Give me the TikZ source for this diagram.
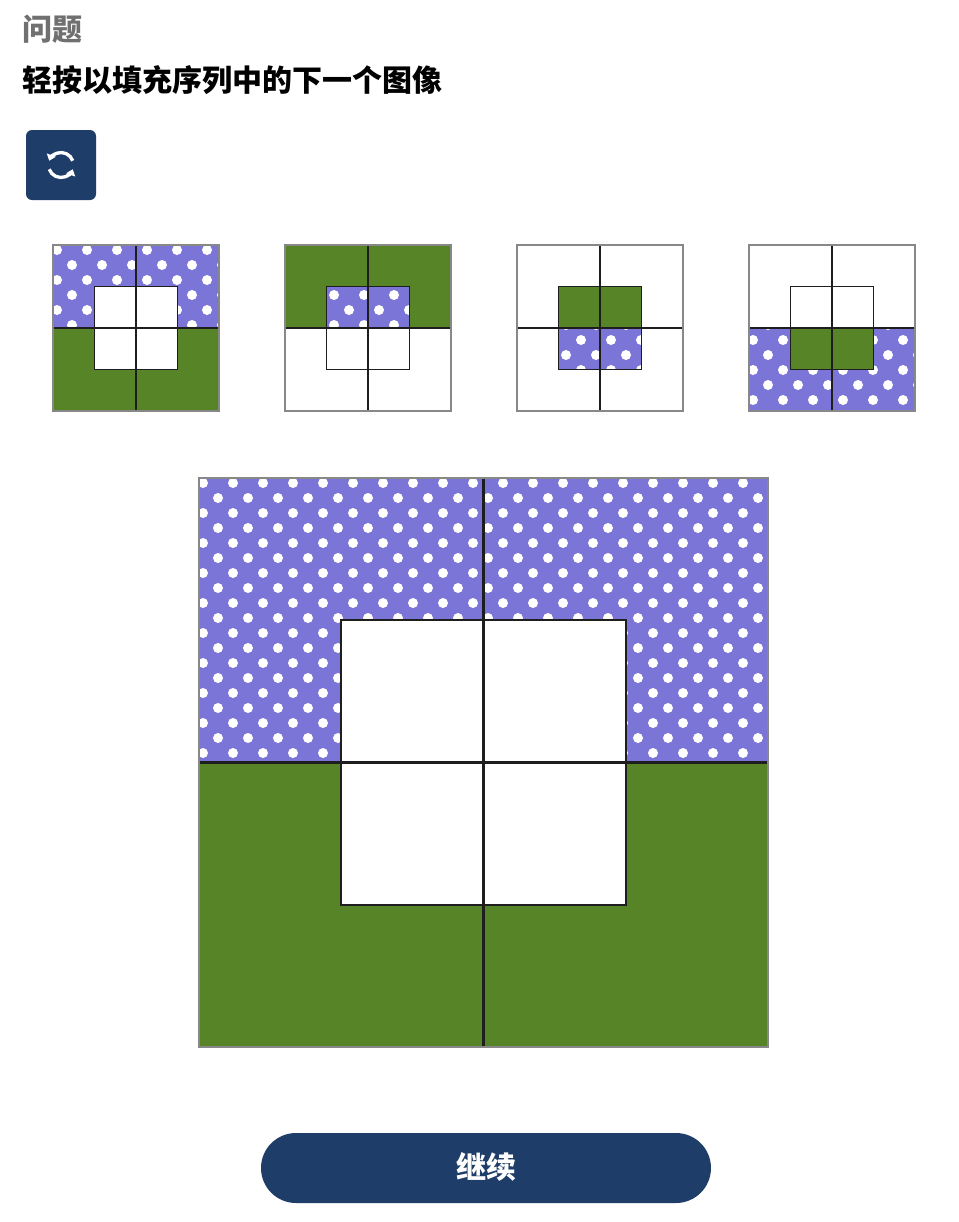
\documentclass[tikz,border=0pt]{standalone}
\usepackage{fontspec}
\setmainfont{Noto Sans CJK SC}
\usetikzlibrary{arrows.meta}
\definecolor{dotbg}{RGB}{124,117,216}
\definecolor{grass}{RGB}{87,132,38}
\definecolor{navy}{RGB}{30,61,104}
\definecolor{qgray}{RGB}{112,112,112}
\definecolor{rim}{RGB}{136,136,136}
\definecolor{ink}{RGB}{30,30,30}
\tikzset{
  heading/.style={anchor=west,inner sep=0pt,font=\fontsize{22.5pt}{27pt}\selectfont\bfseries},
  btn/.style={fill=navy},
  sync/.style={white,line width=2.5pt,-{Triangle[width=7pt,length=4.5pt]}},
}
% purple region with white dots, pattern anchored at the panel corner
\newcommand{\dotsq}[6]{%
  \begin{scope}
    \clip (#3,#4) rectangle (#5,#6);
    \fill[dotbg] (#3,#4) rectangle (#5,#6);
    \pgfmathtruncatemacro\lastrow{(#6-#2)/15+1}
    \pgfmathtruncatemacro\lastcol{(#5-#1)/30+1}
    \foreach \j in {0,...,\lastrow}
      \foreach \i in {0,...,\lastcol}
        \fill[white] ({#1+4+15*mod(\j,2)+30*\i},{#2+5+15*\j}) circle (5);
  \end{scope}}
% grid lines of one panel: left, top, size, inner width, rim width
\newcommand{\panelgrid}[5]{%
  \draw[ink,line width=#4] (#1+#3/2,#2) -- (#1+#3/2,#2+#3);
  \draw[ink,line width=#4] (#1,#2+#3/2) -- (#1+#3,#2+#3/2);
  \draw[ink,line width=#4] (#1+#3/4,#2+#3/4) rectangle (#1+3*#3/4,#2+3*#3/4);
  \draw[rim,line width=#5] (#1,#2) rectangle (#1+#3,#2+#3);}
\begin{document}
\begin{tikzpicture}[x=0.75pt,y=-0.75pt,line join=miter]
\useasboundingbox (0,0) rectangle (958,1222);
\fill[white] (0,0) rectangle (958,1222);
% header
\node[heading,text=qgray] (question) at (22,29) {问题};
\node[heading,text=black] (prompt) at (22,80) {轻按以填充序列中的下一个图像};
% reset button
\fill[btn,rounded corners=4.5pt] (26,130) rectangle (96,200);
\draw[sync] (61,165) ++(-20:12.5) arc[start angle=-20,end angle=-160,radius=12.5];
\draw[sync] (61,165) ++(-200:12.5) arc[start angle=-200,end angle=-340,radius=12.5];
% panel 1
\dotsq{53}{245}{53}{245}{219}{328}
\fill[grass] (53,328) rectangle (219,411);
\fill[white] (94.5,286.5) rectangle (177.5,369.5);
\panelgrid{53}{245}{166}{1.4pt}{1.8pt}
% panel 2
\fill[grass] (285,245) rectangle (451,328);
\dotsq{285}{245}{326.5}{286.5}{409.5}{328}
\fill[white] (326.5,328) rectangle (409.5,369.5);
\panelgrid{285}{245}{166}{1.4pt}{1.8pt}
% panel 3
\fill[grass] (558.5,286.5) rectangle (641.5,328);
\dotsq{517}{245}{558.5}{328}{641.5}{369.5}
\panelgrid{517}{245}{166}{1.4pt}{1.8pt}
% panel 4
\dotsq{749}{245}{749}{328}{915}{411}
\fill[white] (790.5,286.5) rectangle (873.5,328);
\fill[grass] (790.5,328) rectangle (873.5,369.5);
\panelgrid{749}{245}{166}{1.4pt}{1.8pt}
% answer panel
\dotsq{199}{478}{199}{478}{768}{762.5}
\fill[grass] (199,762.5) rectangle (768,1047);
\fill[white] (341.25,620.25) rectangle (625.75,904.75);
\panelgrid{199}{478}{569}{1.8pt}{2pt}
% continue button
\fill[btn,rounded corners=26.25pt] (261,1133) rectangle (711,1203);
\node[heading,anchor=center,text=white] (continue) at (486,1167) {继续};
\end{tikzpicture}
\end{document}
